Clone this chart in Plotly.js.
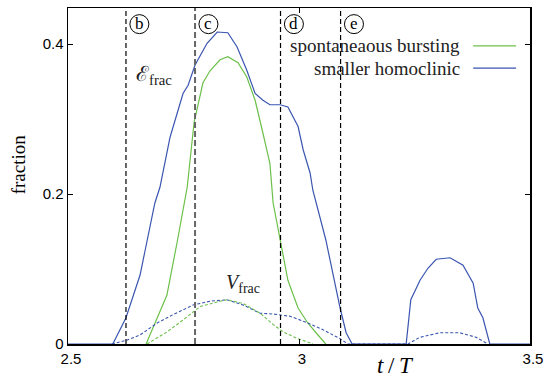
<!DOCTYPE html>
<html><head><meta charset="utf-8">
<script src="https://cdn.plot.ly/plotly-3.0.1.min.js"></script>
<style>body{margin:0;background:#fff}#plot{width:546px;height:381px}</style>
</head><body><div id="plot"></div>
<script>
// smaller homoclinic, E_frac (solid blue)
const homE_t = [2.5,2.597,2.6255,2.656,2.667,2.688,2.699,2.721,2.749,2.760,2.775,2.801,2.823,2.846,2.866,2.887,2.905,2.922,2.937,2.959,2.976,2.998,3.009,3.024,3.030,3.058,3.089,3.102,3.115,3.232,3.242,3.262,3.279,3.297,3.327,3.355,3.377,3.387,3.398,3.413,3.5];
const homE_v = [0,0,0.035,0.092,0.125,0.188,0.209,0.276,0.334,0.345,0.372,0.401,0.416,0.415,0.396,0.365,0.334,0.325,0.319,0.319,0.316,0.29,0.259,0.228,0.205,0.139,0.048,0.015,0,0,0.059,0.085,0.101,0.113,0.115,0.105,0.081,0.048,0.035,0,0];
// spontaneous bursting, E_frac (solid green)
const burE_t = [2.669,2.714,2.736,2.758,2.773,2.792,2.807,2.829,2.846,2.868,2.887,2.905,2.922,2.937,2.944,2.959,2.976,2.998,3.019,3.041,3.058];
const burE_v = [0,0.065,0.135,0.209,0.296,0.348,0.364,0.379,0.383,0.375,0.356,0.325,0.281,0.241,0.188,0.139,0.085,0.048,0.028,0.012,0];
// smaller homoclinic, V_frac (dashed blue)
const homV_t = [2.595,2.627,2.656,2.693,2.727,2.771,2.807,2.844,2.879,2.916,2.944,2.981,3.015,3.052,3.089,3.106,3.236,3.262,3.305,3.348,3.383,3.409];
const homV_v = [0,0.005,0.012,0.028,0.039,0.052,0.057,0.059,0.052,0.041,0.040,0.037,0.029,0.019,0.007,0,0,0.009,0.015,0.015,0.009,0];
// spontaneous bursting, V_frac (dashed green)
const burV_t = [2.671,2.714,2.749,2.786,2.823,2.844,2.879,2.916,2.944,2.966,2.994,3.024,3.030];
const burV_v = [0,0.016,0.032,0.05,0.056,0.059,0.054,0.041,0.026,0.016,0.008,0.001,0];
// event markers
const eventT = [2.6255,2.775,2.96,3.09];
const eventLabels = ['b','c','d','e'];
const seriesNames = ['spontaneaous bursting','smaller homoclinic'];

const GREEN = '#6cc04a', BLUE = '#3a55b0';
const serif = '"Liberation Serif", serif';
const sans = '"Liberation Sans", sans-serif';

const traces = [
  {x: homE_t, y: homE_v, mode:'lines', line:{color:BLUE,width:1.2}, showlegend:false},
  {x: burE_t, y: burE_v, mode:'lines', line:{color:GREEN,width:1.2}, showlegend:false},
  {x: homV_t, y: homV_v, mode:'lines', line:{color:BLUE,width:1.1,dash:'3px,2px'}, showlegend:false},
  {x: burV_t, y: burV_v, mode:'lines', line:{color:GREEN,width:1.1,dash:'3px,2px'}, showlegend:false}
];

const shapes = [], annotations = [];
eventT.forEach((t,i)=>{
  const grey = i===1;
  shapes.push({type:'line', xref:'x', yref:'paper', x0:t, x1:t, y0:0, y1:1,
    line:{color: grey ? '#666' : '#000', width: grey ? 2 : 1.2, dash: grey ? '6px,3px' : '5px,3px'}});
  shapes.push({type:'circle', xref:'x', yref:'paper', xsizemode:'pixel', ysizemode:'pixel',
    xanchor: t + 0.029, yanchor: 0.952, x0:-9.5, x1:9.5, y0:-9.5, y1:9.5,
    line:{color:'#000', width:1}});
  annotations.push({x: t + 0.029, y: 0.952, xref:'x', yref:'paper', text: eventLabels[i],
    showarrow:false, xanchor:'center', yanchor:'middle', font:{family:serif, size:17, color:'#000'}, yshift:1});
});
// legend (text left, line right)
const legY = [0.887, 0.821];
const legColors = [GREEN, BLUE];
seriesNames.forEach((n,i)=>{
  annotations.push({x:0.853, y:legY[i], xref:'paper', yref:'paper', text:n, showarrow:false,
    xanchor:'right', yanchor:'middle', font:{family:serif, size:19, color:'#222'}});
  shapes.push({type:'line', xref:'paper', yref:'paper', x0:0.877, x1:0.970, y0:legY[i], y1:legY[i],
    line:{color:legColors[i], width:1.3}});
});
annotations.push({x:2.642, y:0.359, xref:'x', yref:'y', xanchor:'left', yanchor:'middle', showarrow:false,
  text:'ℰ<sub>frac</sub>', font:{family:serif, size:21, color:'#222'}});
annotations.push({x:2.838, y:0.081, xref:'x', yref:'y', xanchor:'left', yanchor:'middle', showarrow:false,
  text:'<i>V</i><sub>frac</sub>', font:{family:serif, size:20, color:'#222'}});
// axis titles
annotations.push({x:0.708, y:-0.108, xref:'paper', yref:'paper', xanchor:'center', yanchor:'bottom', showarrow:false,
  text:'<i>t</i>\u2009/\u2009<i>T</i>', font:{family:serif, size:23, color:'#000'}});
annotations.push({x:-0.108, y:0.535, xref:'paper', yref:'paper', xanchor:'center', yanchor:'middle', showarrow:false,
  textangle:-90, text:'fraction', font:{family:serif, size:19, color:'#000'}});

const layout = {
  width:546, height:381,
  margin:{l:68, r:16, t:8, b:37},
  paper_bgcolor:'#fff', plot_bgcolor:'#fff',
  xaxis:{range:[2.5,3.5], tickvals:[2.5,3,3.5], ticktext:['2.5','3','3.5'],
    ticks:'inside', ticklen:5, tickcolor:'#000', showgrid:false, zeroline:false,
    showline:true, linecolor:'#000', linewidth:1.5, mirror:'ticks', ticklabelshift:3,
    tickfont:{family:sans, size:15, color:'#000'}},
  yaxis:{range:[0,0.448], tickvals:[0,0.2,0.4], ticktext:['0','0.2','0.4'],
    ticks:'inside', ticklen:5, tickcolor:'#000', showgrid:false, zeroline:false,
    showline:true, linecolor:'#000', linewidth:1.5, mirror:'ticks',
    tickfont:{family:sans, size:15, color:'#000'}},
  shapes, annotations, showlegend:false
};
Plotly.newPlot('plot', traces, layout, {displayModeBar:false, staticPlot:true});
</script></body></html>
